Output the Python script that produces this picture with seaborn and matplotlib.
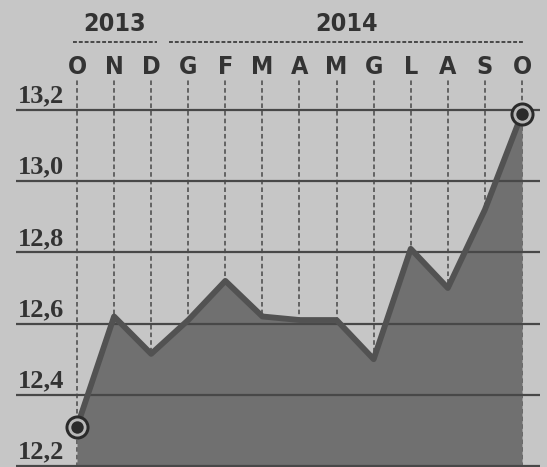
import numpy as np
import pandas as pd
import matplotlib
matplotlib.use("Agg")
import matplotlib.pyplot as plt
import seaborn as sns

# ---- data ----
months = ['O', 'N', 'D', 'G', 'F', 'M', 'A', 'M', 'G', 'L', 'A', 'S', 'O']
values = [12.31, 12.62, 12.515, 12.61, 12.72, 12.62, 12.61, 12.61, 12.50, 12.81, 12.70, 12.92, 13.19]
years = ['2013', '2014']
year_spans = [(0, 2), (3, 12)]
yticks = [12.2, 12.4, 12.6, 12.8, 13.0, 13.2]
ytick_labels = ['12,2', '12,4', '12,6', '12,8', '13,0', '13,2']

df = pd.DataFrame({'idx': np.arange(len(months)), 'value': values})

sns.set_theme(style='white')
BG = '#c6c6c6'
FILL = '#707070'
LINE = '#525252'
GRID = '#484848'
TXT = '#333333'

W, H = 547, 467
fig = plt.figure(figsize=(W / 100, H / 100), dpi=100, facecolor=BG)
ax = fig.add_axes([0, 0, 1, 1])
ax.set_facecolor(BG)

px_per_idx = (522 - 77) / 12
x0 = -77 / px_per_idx
x1 = 12 + (W - 522) / px_per_idx
px_per_unit = (466 - 110) / 1.0
y0 = 12.2 - (H - 466) / px_per_unit
y1 = 13.2 + 110 / px_per_unit
ax.set_xlim(x0, x1)
ax.set_ylim(y0, y1)
ax.axis('off')

def px2x(p):
    return x0 + p / px_per_idx

def py2y(p):
    return y1 - p / px_per_unit

# vertical dashed month lines (behind fill)
for i in range(len(months)):
    ax.plot([i, i], [y0, py2y(79)], color=GRID, lw=1.1, ls=(0, (3, 2)), zorder=1)

# area fill
ax.fill_between(df['idx'], y0, df['value'], color=FILL, lw=0, zorder=2)

# horizontal gridlines on top of fill
for v in yticks:
    ax.plot([px2x(16), px2x(540)], [v, v], color=GRID, lw=1.6, zorder=3, solid_capstyle='butt')

# line
sns.lineplot(data=df, x='idx', y='value', ax=ax, color=LINE, lw=4.2, zorder=4,
             legend=False)

# end markers
ends = df.iloc[[0, -1]]
ax.scatter(ends['idx'], ends['value'], s=300, color='#2a2a2a', zorder=5, lw=0)
ax.scatter(ends['idx'], ends['value'], s=170, color='#b8b8b8', zorder=6, lw=0)
ax.scatter(ends['idx'], ends['value'], s=80, color='#2a2a2a', zorder=7, lw=0)

# y labels
for v, lab in zip(yticks, ytick_labels):
    ax.text(px2x(18), v + 2.5 / px_per_unit, lab, ha='left', va='bottom',
            fontsize=19, fontweight='bold', family='Liberation Serif',
            fontstretch='condensed', color=TXT, zorder=8)

# month letters
mfam = ['DejaVu Sans']
for i, m in enumerate(months):
    ax.text(i, py2y(67), m, ha='center', va='center', fontsize=18,
            family=mfam, fontstretch='condensed', fontweight='bold',
            color=TXT, zorder=8)

# years with dashed underline
under_px = [(73, 157), (169, 524)]
for (yr, (a, b)), (ua, ub) in zip(zip(years, year_spans), under_px):
    cx = (px2x(ua) + px2x(ub)) / 2
    ax.text(cx, py2y(24), yr, ha='center', va='center', fontsize=18,
            family=mfam, fontstretch='condensed', fontweight='bold',
            color=TXT, zorder=8)
    ax.plot([px2x(ua), px2x(ub)], [py2y(42), py2y(42)], color=GRID, lw=1.4,
            ls=(0, (2, 1)), zorder=8)

fig.savefig('out.png', dpi=100, facecolor=BG)
